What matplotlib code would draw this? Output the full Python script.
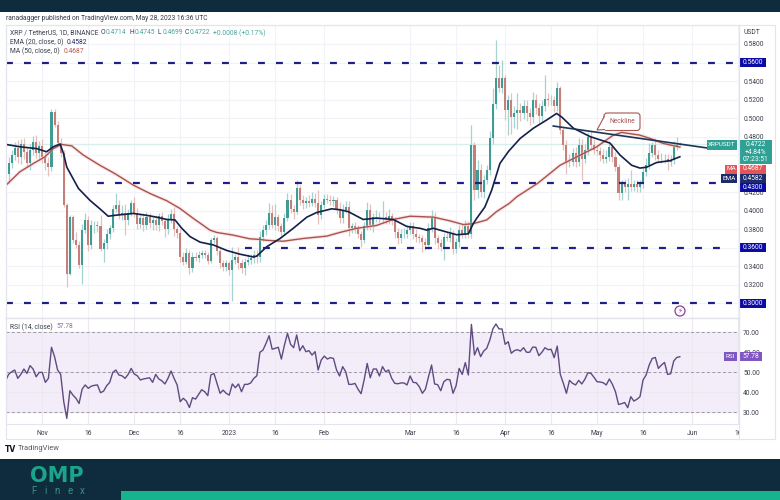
import matplotlib
matplotlib.use("Agg")
import matplotlib.pyplot as plt
from matplotlib.patches import Rectangle, FancyBboxPatch, Polygon, Circle

plt.rcParams['font.family'] = ['Roboto', 'DejaVu Sans']

first_day = -11   # days after 1 Nov 2022 of the first candle
first_open = 0.440
closes = [
    .452,.460,.468,.458,.472,.463,.452,.466,.474,.462,.470,.458,.452,.447,
    .507,.493,.473,.462,.406,.332,.393,
    .368,.363,.341,.379,.390,.363,.384,.384,.383,.359,
    .365,.375,.381,.402,.406,.395,.398,.390,.397,.408,
    .397,.386,.392,.385,.393,.387,.390,.384,.394,.389,
    .380,.391,.396,.380,.376,.350,.345,.354,.338,.350,
    .349,.352,.354,.352,.346,.368,.370,.356,.343,.339,
    .343,.336,.347,.350,.343,.338,.345,.347,.349,.352,
    .350,.372,.379,.384,.397,.384,.393,.383,.377,.392,
    .411,.402,.399,.424,.411,.408,.410,.408,.413,.408,
    .395,.406,.413,.411,.410,.412,.401,.392,.401,.404,
    .381,.383,.381,.375,.368,.383,.401,.384,.393,.393,
    .393,.393,.391,.394,.389,.377,.370,.375,.375,.379,
    .383,.375,.372,.370,.366,.363,.381,.392,.370,.365,
    .361,.372,.371,.375,.359,.366,.379,.375,.383,.375,
    .471,.422,.444,.420,.433,.444,.478,.515,.543,.532,
    .543,.509,.519,.501,.505,.509,.505,.513,.505,.501,
    .519,.511,.502,.513,.521,.519,.519,.513,.533,.487,
    .471,.453,.453,.462,.453,.471,.456,.465,.480,.471,
    .465,.464,.460,.456,.458,.469,.458,.447,.419,.429,
    .426,.429,.426,.429,.426,.429,.442,.449,.462,.471,
    .460,.456,.456,.456,.453,.455,.469,.4714,.4722,
]
upper_wick = [
    6,5,6,8,5,7,6,6,7,8,5,7,5,6,
    3,3,4,5,4,2,2,
    2,9,4,7,7,4,6,5,5,12,
    4,5,4,4,13,6,8,9,5,3,
    7,6,6,5,6,5,4,5,4,5,
    3,5,6,8,3,4,5,6,4,5,
    5,4,3,4,3,3,4,3,4,4,
    4,3,14,3,11,5,4,6,4,5,
    5,6,6,6,11,9,14,3,4,5,
    8,7,4,9,4,6,5,7,7,6,
    14,4,5,5,6,4,3,8,6,6,
    6,4,5,4,3,5,8,6,5,8,
    6,17,6,8,4,4,4,5,6,5,
    5,5,5,3,4,4,6,9,7,4,
    4,4,5,7,4,4,5,6,7,6,
    21,3,11,6,5,5,8,18,41,14,
    20,3,6,8,8,18,7,7,6,6,
    9,7,5,7,25,6,6,5,6,2,
    3,5,8,6,7,8,6,7,5,6,
    6,5,5,7,8,6,4,5,3,4,
    5,6,15,4,4,4,5,8,11,3,
    8,5,6,5,5,5,6,8,2,
]
lower_wick = [
    10,6,5,6,8,7,5,8,6,5,7,6,8,10,
    4,3,3,4,2,14,2,
    3,3,3,20,3,7,4,8,6,3,
    14,6,6,4,3,4,5,16,5,3,
    4,6,5,7,5,6,8,5,6,4,
    8,5,4,7,6,5,4,3,6,4,
    3,4,3,3,4,3,3,4,5,4,
    4,6,34,5,6,5,8,4,5,6,
    6,5,5,5,4,3,5,5,6,3,
    3,5,8,3,5,6,5,4,3,4,
    9,4,3,3,4,5,5,5,5,3,
    8,5,5,5,7,3,4,5,7,5,
    5,6,5,5,4,7,6,5,5,5,
    4,6,6,5,11,6,4,4,6,6,
    5,14,4,5,6,5,5,4,4,4,
    5,11,8,5,6,4,5,6,5,4,
    5,11,27,18,12,17,8,6,8,9,
    6,7,7,6,5,6,5,6,5,4,
    6,13,6,5,6,5,23,5,5,4,
    4,4,6,5,5,4,5,4,8,7,
    6,14,5,5,6,6,5,5,4,4,
    5,5,4,4,9,5,5,3,2,
]
ema_days = [-11.8,-7.3,-1.8,1.4,3.6,5.8,6.9,8,11.8,15.6,18.8,21.5,23.7,29.7,34,37.3,40.6,43.3,45.5,48.2,
            51.5,55.8,60.2,64.5,68.9,70,73.2,77.6,81.9,86.3,89.5,94.4,97.1,99.8,104.7,109,114.5,118.9,
            123.2,125.4,127.6,130.8,135.2,139,140.6,141.7,144.4,146.6,149.3,152.1,155.9,160.2,164.6,
            167.8,169.5,173.3,178.7,185.2,188.5,192.3,195,197.2,200.4,204.8,208]
ema_values = [.4715,.469,.467,.4636,.469,.472,.462,.447,.424,.411,.402,.394,.395,.397,.395,.393,.3905,.390,.381,.372,
              .366,.363,.357,.353,.350,.351,.361,.370,.381,.393,.398,.402,.401,.399,.3905,.392,.3905,.383,
              .381,.379,.381,.378,.374,.375,.386,.3916,.404,.422,.451,.464,.478,.489,.498,
              .505,.501,.489,.480,.473,.460,.449,.446,.447,.452,.454,.4582]
ma_days = [-11.8,-7.3,-2.9,.9,3.6,6.3,9.6,13.4,18.8,23.7,29.7,35.1,40.6,44.9,49.3,54.7,56.9,62.3,67.7,70.8,
           73.2,78.6,85.2,92.8,97.1,102.6,109,114.5,120,127.6,133,137.4,140.6,145,148.2,152.4,154.8,
           161.8,168.9,174.3,180.9,186.3,189,194.9,198.3,202.6,208]
ma_values = [.4276,.442,.451,.4582,.467,.4715,.470,.460,.449,.440,.4276,.4186,.4107,.4024,.3916,.379,.3765,.3736,.3696,.369,
             .368,.367,.370,.3725,.3765,.381,.384,.3905,.394,.393,.389,.385,.386,.390,.399,.408,.415,
             .430,.449,.458,.469,.4816,.4845,.4816,.478,.4726,.4687]
rsi_first_day = -12
rsi_values = [
    45.6,48.9,50.2,51.1,46.9,48.9,51.6,49.4,53.3,51.6,47.7,49.9,49.9,44.9,46.9,62.5,
    57.8,51.1,48.9,35.2,26.8,40.7,38.5,36.9,34.3,41.5,43.6,41.9,43.0,43.4,43.6,39.7,40.5,43.2,44.9,49.9,51.1,
    48.6,48.2,46.9,48.9,51.9,49.1,48.2,46.1,46.6,46.9,47.2,44.9,48.9,46.6,45.7,44.1,46.9,50.6,46.9,43.6,35.2,
    36.9,35.5,32.3,37.2,36.5,38.9,41.2,40.2,38.2,48.6,49.4,44.4,39.4,41.0,39.4,38.5,44.1,42.2,44.1,40.2,43.9,
    43.9,44.6,46.9,48.2,60.0,61.1,64.5,68.3,61.5,62.0,62.5,56.6,63.6,69.5,64.0,62.3,68.7,60.8,63.3,60.3,60.8,
    58.6,60.3,51.1,56.1,58.1,56.6,57.3,56.9,51.1,48.1,52.8,50.2,43.9,43.9,44.4,41.5,39.2,46.1,54.4,47.2,51.6,
    51.6,48.1,52.8,50.2,51.1,
    46.9,44.4,44.2,44.6,44.6,43.6,48.1,44.9,44.7,42.7,39.4,41.5,47.7,53.6,44.1,43.7,40.7,45.2,46.4,46.2,39.4,
    43.2,51.9,48.9,54.8,48.6,74.0,58.6,62.3,57.8,60.6,62.0,66.1,71.7,74.2,71.7,71.7,64.0,65.3,59.5,60.8,61.3,
    60.6,62.3,60.0,60.0,62.6,62.5,58.3,60.0,62.3,61.3,61.5,57.3,63.1,48.9,44.4,39.4,45.9,44.4,43.6,45.9,44.1,
    46.4,49.7,49.4,47.4,45.2,45.1,44.7,43.6,46.6,43.9,40.2,33.8,34.2,34.8,32.2,37.7,35.5,36.4,37.7,46.1,48.6,
    53.6,56.9,57.4,51.9,53.6,54.9,48.9,49.2,55.6,57.4,57.78,
]
level_values = [.56, .43, .36, .30]
level_start = [-12, 17.8, 66, -12]
level_end = [226, 222, 223, 225]
neckline_days = [166.7, 217.8]
neckline_values = [.4914, .4673]
last_price = .4722
price_ticks = [.30,.32,.34,.36,.38,.40,.42,.44,.46,.48,.50,.52,.54,.56,.58]
price_labels = ['','0.3200','0.3400','','0.3800','0.4000','0.4200','','','0.4800','0.5000','0.5200','0.5400','','0.5800']
date_ticks = [0,15,30,45,61,76,92,120,135,151,166,181,196,212,227]
date_labels = ['Nov','16','Dec','16','2023','16','Feb','Mar','16','Apr','16','May','16','Jun','16']
rsi_ticks = [30,40,50,60,70]

W, H = 780, 500
fig = plt.figure(figsize=(7.8, 5), dpi=100, facecolor='white')
def rect(x0, y0, x1, y1):
    return [x0/W, 1-y1/H, (x1-x0)/W, (y1-y0)/H]

GRID = '#f1f3f8'
BORDER = '#e2e5ec'
TXT = '#3a3f4b'
UP, DOWN = '#3f9c95', '#c47f7b'
UPW, DOWNW = '#a6d3cf', '#e6c0bd'
FS = 4.9
FB = 4.8

ax = fig.add_axes(rect(5.5, 25, 739, 318))
rs = fig.add_axes(rect(5.5, 318, 739, 424))

# candles
n = len(closes)
days = [first_day + i for i in range(n)]
opens = [first_open] + closes[:-1]
highs = [max(o, c) + u/1000 for o, c, u in zip(opens, closes, upper_wick)]
lows = [min(o, c) - l/1000 for o, c, l in zip(opens, closes, lower_wick)]
cols = [UP if c >= o else DOWN for o, c in zip(opens, closes)]
wcols = [UPW if c >= o else DOWNW for o, c in zip(opens, closes)]
ax.vlines(days, lows, highs, colors=wcols, lw=0.9, zorder=3)
ax.bar(days, [abs(c-o) for o, c in zip(opens, closes)], bottom=[min(o, c) for o, c in zip(opens, closes)],
       width=0.68, color=cols, linewidth=0, zorder=4)

ax.axhline(last_price, color='#d8eeeb', lw=1.0, zorder=2)
ax.plot(ma_days, ma_values, color='#f3b8b5', lw=2.6, alpha=.35, zorder=5, solid_capstyle='round')
ax.plot(ma_days, ma_values, color='#a8534f', lw=1.0, zorder=6)
ax.plot(ema_days, ema_values, color='#14204a', lw=1.2, zorder=7)
ax.plot(neckline_days, neckline_values, color='#1d3557', lw=1.2, zorder=8)
for v, s, e in zip(level_values, level_start, level_end):
    ax.hlines(v, s, e, colors='#1f1f86', lw=1.6, linestyles=[(0, (3.1, 5.0))], zorder=8)

ax.set_xlim(-12, 227.3)
ax.set_ylim(.2841, .6005)
ax.set_yticks(price_ticks)
ax.set_yticklabels(price_labels)
ax.yaxis.tick_right()
ax.tick_params(axis='y', length=0, pad=3, labelsize=FS, labelcolor=TXT)
ax.set_xticks(date_ticks)
ax.tick_params(axis='x', length=0, labelbottom=False)
ax.grid(True, color=GRID, lw=.8)
ax.set_axisbelow(True)
for s in ax.spines.values():
    s.set_color(BORDER); s.set_linewidth(.8)

# RSI
rsi_days = [rsi_first_day + i for i in range(len(rsi_values))]
rs.axhspan(30, 70, color='#f2edf9', zorder=0)
for v in (30, 50, 70):
    rs.axhline(v, color='#9c98a4', lw=.7, ls=(0, (3, 2.5)), zorder=2)
rs.plot(rsi_days, rsi_values, color='#5f4b80', lw=1.0, zorder=5)
rs.set_xlim(-12, 227.3)
rs.set_ylim(24.0, 77.2)
rs.set_yticks(rsi_ticks)
rs.set_yticklabels([f'{v:.2f}' for v in rsi_ticks])
rs.yaxis.tick_right()
rs.set_xticks(date_ticks)
rs.set_xticklabels(date_labels)
rs.tick_params(axis='y', length=0, pad=3, labelsize=FS, labelcolor=TXT)
rs.tick_params(axis='x', length=0, pad=4, labelsize=FS, labelcolor=TXT)
rs.grid(True, color='#ebe8f2', lw=.8)
rs.set_axisbelow(True)
for s in rs.spines.values():
    s.set_color(BORDER); s.set_linewidth(.8)
for lab, d in zip(rs.get_xticklabels(), date_ticks):
    if d == 227:
        lab.set_clip_on(True)
        lab.set_clip_box(matplotlib.transforms.Bbox.from_extents(0, 0, 740, 500))

# chrome in pixel coordinates
o = fig.add_axes([0, 0, 1, 1], zorder=20)
o.set_xlim(0, W); o.set_ylim(H, 0); o.axis('off'); o.patch.set_alpha(0)
DARK = '#0f2c3f'
TEAL = '#17b38f'
o.add_patch(Rectangle((0, 0), W, 12, color=DARK, lw=0))
o.add_patch(Rectangle((0, 459), W, 41, color=DARK, lw=0))
o.add_patch(Rectangle((121, 491), W-121, 9, color=TEAL, lw=0))
o.add_patch(Rectangle((5.5, 25), 769, 414, fill=False, ec=BORDER, lw=.8))
o.plot([5.5, 739], [318, 318], color=BORDER, lw=1)
o.plot([739, 739], [25, 439], color=BORDER, lw=.8)

o.text(5.5, 18, 'ranadagger published on TradingView.com, May 28, 2023 16:36 UTC', fontsize=4.75, color='#333a45', va='center')
G = '#4ba69e'
o.text(10, 33, 'XRP / TetherUS, 1D, BINANCE', fontsize=4.9, color=TXT, va='center')
for x, t, c in [(101,'O',TXT),(106,'0.4714',G),(130,'H',TXT),(135,'0.4745',G),(158,'L',TXT),(163,'0.4699',G),
                (185,'C',TXT),(190,'0.4722',G),(213,'+0.0008 (+0.17%)',G)]:
    o.text(x, 33, t, fontsize=4.9, color=c, va='center')
o.text(10, 42, 'EMA (20, close, 0)', fontsize=4.9, color=TXT, va='center')
o.text(67, 42, '0.4582', fontsize=4.9, color='#1d2c6b', va='center')
o.text(10, 51.5, 'MA (50, close, 0)', fontsize=4.9, color=TXT, va='center')
o.text(64, 51.5, '0.4687', fontsize=4.9, color='#b85c58', va='center')
o.text(10, 327, 'RSI (14, close)', fontsize=4.9, color=TXT, va='center')
o.text(57, 327, '57.78', fontsize=4.9, color='#8570ab', va='center')
o.text(744, 32, 'USDT', fontsize=4.9, color=TXT, va='center')

# price badges
NAVY = '#0b0ba6'
for yc, t in [(62.5, '0.5600'), (187.5, '0.4300'), (247.5, '0.3600'), (303.5, '0.3000')]:
    o.add_patch(Rectangle((739, yc-4.8), 27, 9.6, color=NAVY, lw=0))
    o.text(752.5, yc, t, fontsize=FB, color='white', ha='center', va='center')
B_TEAL = '#2fa094'
o.add_patch(Rectangle((707, 140), 30, 9.5, color=B_TEAL, lw=0))
o.text(722, 144.8, 'XRPUSDT', fontsize=4.6, color='white', ha='center', va='center')
o.add_patch(Rectangle((739, 140), 33, 24, color=B_TEAL, lw=0))
for y, t in [(144.5, '0.4722'), (152, '+4.84%'), (159.5, '07:23:51')]:
    o.text(755.5, y, t, fontsize=FB, color='white', ha='center', va='center')
o.add_patch(Rectangle((725, 164.5), 12, 9, color='#e2565a', lw=0))
o.text(731, 169, 'MA', fontsize=4.6, color='white', ha='center', va='center')
o.add_patch(Rectangle((739, 164.5), 27, 9, color='#e2565a', lw=0))
o.text(752.5, 169, '0.4687', fontsize=FB, color='white', ha='center', va='center')
o.add_patch(Rectangle((721, 174), 16, 9, color='#1d2b6d', lw=0))
o.text(729, 178.5, 'EMA', fontsize=4.6, color='white', ha='center', va='center')
o.add_patch(Rectangle((739, 174), 27, 9, color='#1d2b6d', lw=0))
o.text(752.5, 178.5, '0.4582', fontsize=FB, color='white', ha='center', va='center')
P = '#7e57c2'
o.add_patch(Rectangle((724, 352), 13, 9, color=P, lw=0))
o.text(730.5, 356.5, 'RSI', fontsize=4.6, color='white', ha='center', va='center')
o.add_patch(Rectangle((739, 352), 23, 9, color=P, lw=0))
o.text(750.5, 356.5, '57.78', fontsize=FB, color='white', ha='center', va='center')

# neckline callout
BR = '#a65550'
o.add_patch(FancyBboxPatch((604, 113), 36, 17.5, boxstyle='round,pad=0,rounding_size=3', fc='white', ec=BR, lw=.8, zorder=9))
o.add_patch(Polygon([(604.5, 116), (597, 130), (606, 129.5)], closed=False, fc='white', ec=BR, lw=.8, zorder=10))
o.plot([605.6, 605.6], [117, 129], color='white', lw=1.4, zorder=11)
o.text(622, 121.5, 'Neckline', fontsize=4.9, color=BR, ha='center', va='center', zorder=12)

# lightning marker
o.add_patch(Circle((680, 311), 5, fc='white', ec='#8e3f94', lw=.9, zorder=9))
o.text(680, 311, '\u26a1', fontsize=5, color='#8e3f94', ha='center', va='center', family=['DejaVu Sans'], zorder=10)

# footer marks
o.text(5, 449, 'TV', fontsize=5.5, fontweight='bold', color='#131722', va='center', family=['DejaVu Sans'])
o.text(18, 449, 'TradingView', fontsize=5.4, color='#555b66', va='center')
o.text(57, 475.5, 'OMP', fontsize=15, fontweight='bold', color='#1aa58a', ha='center', va='center', family=['DejaVu Sans'])
for x, c in zip([34, 46, 57, 70, 82], 'Finex'):
    o.text(x, 491, c, fontsize=7, color='#3f8f82', ha='center', va='center')

fig.savefig('out.png', dpi=100)
